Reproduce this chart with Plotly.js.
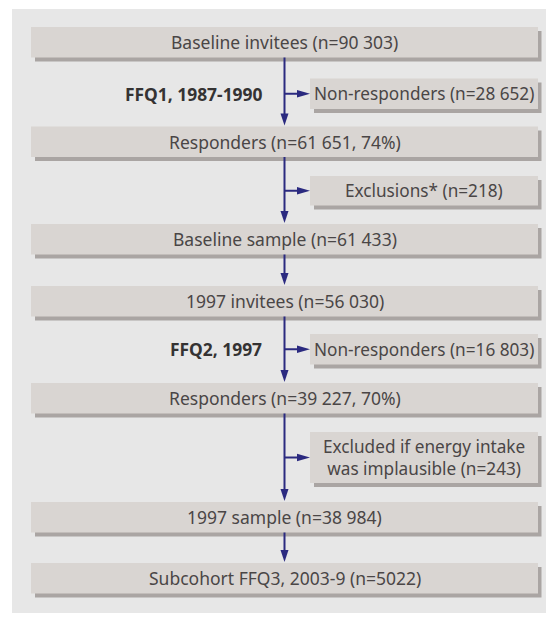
<!DOCTYPE html>
<html>
<head>
<meta charset="utf-8">
<script src="https://cdn.plot.ly/plotly-3.0.1.min.js"></script>
<style>html,body{margin:0;padding:0;background:#fff;}#chart{width:546px;height:622px;}</style>
</head>
<body>
<div id="chart"></div>
<script>
// ---- data (labels of the flow chart) ----
const mainLabels = [
  "Baseline invitees (n=90 303)",
  "Responders (n=61 651, 74%)",
  "Baseline sample (n=61 433)",
  "1997 invitees (n=56 030)",
  "Responders (n=39 227, 70%)",
  "1997 sample (n=38 984)",
  "Subcohort FFQ3, 2003-9 (n=5022)"
];
const sideLabels = [
  "Non-responders (n=28 652)",
  "Exclusions* (n=218)",
  "Non-responders (n=16 803)",
  "Excluded if energy intake<br>was implausible (n=243)"
];
const stageLabels = ["FFQ1, 1987-1990", "FFQ2, 1997"];

// ---- layout geometry (positions in chart units) ----
const mainTop = [27, 126.5, 224, 286, 383, 502, 563];
const mainH = 30.5;
const mainX0 = 31, mainX1 = 538;
const sideTop = [78.5, 176, 334, 432];
const sideBot = [109, 205.5, 364.5, 483];
const sideX0 = 310, sideX1 = 538;
const stageFor = [0, 2];         // side branch index for each stage label
const lineX = 284.5;

// ---- styles ----
const panelCol = "#e7e7e7", boxCol = "#d9d5d2", shadowCol = "#aaa5a3";
const arrowCol = "#2b2a80", textCol = "#4a4646", stageCol = "#353333";
const font = "Noto Sans, Open Sans, sans-serif";
const mainSize = 17.5, sideSize = 17.2, stageSize = 17.4;

const shapes = [];
const annotations = [];
// panel
shapes.push({type:"rect", xref:"x", yref:"y", x0:12, x1:546, y0:9, y1:613, fillcolor:panelCol, line:{width:0}, layer:"below"});

function box(x0, x1, y0, y1) {
  shapes.push({type:"rect", xref:"x", yref:"y", x0:x0+4, x1:x1+3.5, y0:y0+4, y1:y1+4, fillcolor:shadowCol, line:{width:0}, layer:"below"});
  shapes.push({type:"rect", xref:"x", yref:"y", x0:x0, x1:x1, y0:y0, y1:y1, fillcolor:boxCol, line:{width:0}, layer:"below"});
}
mainLabels.forEach((t, i) => {
  box(mainX0, mainX1, mainTop[i], mainTop[i] + mainH);
  annotations.push({xref:"x", yref:"y", x:(mainX0+mainX1)/2, y:mainTop[i] + mainH/2, text:t, showarrow:false,
    font:{family:font, size:mainSize, color:textCol}, xanchor:"center", yanchor:"middle"});
});
sideLabels.forEach((t, i) => {
  box(sideX0, sideX1, sideTop[i], sideBot[i]);
  annotations.push({xref:"x", yref:"y", x:(sideX0+sideX1)/2, y:(sideTop[i]+sideBot[i])/2, text:t, showarrow:false,
    font:{family:font, size:sideSize, color:textCol}, xanchor:"center", yanchor:"middle"});
});

// arrows between main boxes
function downArrow(yStart, yTip) {
  shapes.push({type:"line", xref:"x", yref:"y", x0:lineX, x1:lineX, y0:yStart, y1:yTip-10, line:{color:arrowCol, width:2}});
  shapes.push({type:"path", xref:"x", yref:"y", path:`M ${lineX-4},${yTip-12} L ${lineX+4},${yTip-12} L ${lineX},${yTip} Z`, fillcolor:arrowCol, line:{width:0}});
}
function rightArrow(y, xTip) {
  shapes.push({type:"line", xref:"x", yref:"y", x0:lineX, x1:xTip-10, y0:y, y1:y, line:{color:arrowCol, width:2}});
  shapes.push({type:"path", xref:"x", yref:"y", path:`M ${xTip-13},${y-3.8} L ${xTip-13},${y+3.8} L ${xTip},${y} Z`, fillcolor:arrowCol, line:{width:0}});
}
for (let i = 0; i < mainLabels.length - 1; i++) {
  downArrow(mainTop[i] + mainH, mainTop[i+1] - 1);
}
sideLabels.forEach((t, i) => {
  rightArrow((sideTop[i] + sideBot[i]) / 2, sideX0);
});
stageLabels.forEach((t, k) => {
  const i = stageFor[k];
  annotations.push({xref:"x", yref:"y", x:264, y:(sideTop[i]+sideBot[i])/2, text:"<b>"+t+"</b>", showarrow:false,
    font:{family:font, size:stageSize, color:stageCol}, xanchor:"right", yanchor:"middle"});
});

const data = [{type:"scatter", mode:"markers", x:[lineX], y:[mainTop[0]], marker:{opacity:0}, hoverinfo:"skip", showlegend:false}];
const layout = {
  width:546, height:622, margin:{l:0, r:0, t:0, b:0},
  paper_bgcolor:"#ffffff", plot_bgcolor:"#ffffff",
  xaxis:{range:[0,546], visible:false, fixedrange:true},
  yaxis:{range:[622,0], visible:false, fixedrange:true},
  shapes:shapes, annotations:annotations, showlegend:false
};
Plotly.newPlot("chart", data, layout, {displayModeBar:false, staticPlot:true});
</script>
</body>
</html>
